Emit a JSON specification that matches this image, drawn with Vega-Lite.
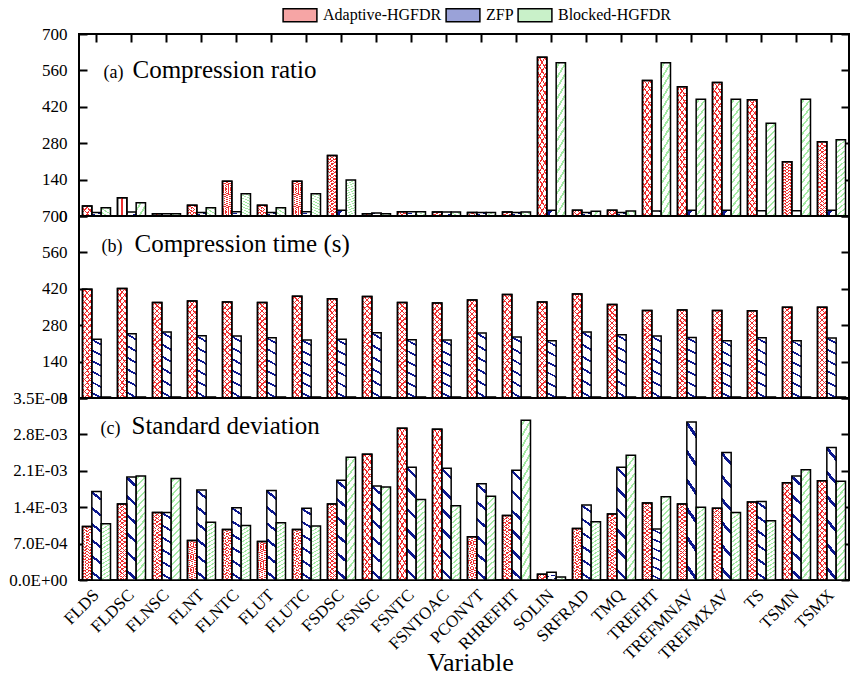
{
"$schema": "https://vega.github.io/schema/vega-lite/v6.json",
"background": "white",
"padding": {"left": 7, "top": 7, "right": 0, "bottom": 0},
"bounds": "flush",
"config": {
  "font": "Times New Roman, Liberation Serif, serif",
  "view": {"stroke": "black", "strokeWidth": 2},
  "axis": {"zindex": 1, "grid": false, "domain": false, "tickColor": "black", "tickWidth": 2, "labelColor": "black", "labelFontSize": 17, "labelFont": "Times New Roman, Liberation Serif, serif", "titleFont": "Times New Roman, Liberation Serif, serif", "titleColor": "black", "titleFontWeight": "normal"},
  "legend": {"labelFont": "Times New Roman, Liberation Serif, serif"}
},
"datasets": {
"d": [
{"p":"a","v":"FLDS","s":"Adaptive-HGFDR","y":38},{"p":"a","v":"FLDS","s":"ZFP","y":13},{"p":"a","v":"FLDS","s":"Blocked-HGFDR","y":32},
{"p":"a","v":"FLDSC","s":"Adaptive-HGFDR","y":70},{"p":"a","v":"FLDSC","s":"ZFP","y":15},{"p":"a","v":"FLDSC","s":"Blocked-HGFDR","y":51},
{"p":"a","v":"FLNSC","s":"Adaptive-HGFDR","y":9},{"p":"a","v":"FLNSC","s":"ZFP","y":9},{"p":"a","v":"FLNSC","s":"Blocked-HGFDR","y":9},
{"p":"a","v":"FLNT","s":"Adaptive-HGFDR","y":41},{"p":"a","v":"FLNT","s":"ZFP","y":13},{"p":"a","v":"FLNT","s":"Blocked-HGFDR","y":32},
{"p":"a","v":"FLNTC","s":"Adaptive-HGFDR","y":134},{"p":"a","v":"FLNTC","s":"ZFP","y":16},{"p":"a","v":"FLNTC","s":"Blocked-HGFDR","y":86},
{"p":"a","v":"FLUT","s":"Adaptive-HGFDR","y":41},{"p":"a","v":"FLUT","s":"ZFP","y":13},{"p":"a","v":"FLUT","s":"Blocked-HGFDR","y":32},
{"p":"a","v":"FLUTC","s":"Adaptive-HGFDR","y":134},{"p":"a","v":"FLUTC","s":"ZFP","y":16},{"p":"a","v":"FLUTC","s":"Blocked-HGFDR","y":86},
{"p":"a","v":"FSDSC","s":"Adaptive-HGFDR","y":233},{"p":"a","v":"FSDSC","s":"ZFP","y":22},{"p":"a","v":"FSDSC","s":"Blocked-HGFDR","y":138},
{"p":"a","v":"FSNSC","s":"Adaptive-HGFDR","y":9},{"p":"a","v":"FSNSC","s":"ZFP","y":12},{"p":"a","v":"FSNSC","s":"Blocked-HGFDR","y":9},
{"p":"a","v":"FSNTC","s":"Adaptive-HGFDR","y":16},{"p":"a","v":"FSNTC","s":"ZFP","y":16},{"p":"a","v":"FSNTC","s":"Blocked-HGFDR","y":16},
{"p":"a","v":"FSNTOAC","s":"Adaptive-HGFDR","y":15},{"p":"a","v":"FSNTOAC","s":"ZFP","y":15},{"p":"a","v":"FSNTOAC","s":"Blocked-HGFDR","y":15},
{"p":"a","v":"PCONVT","s":"Adaptive-HGFDR","y":13},{"p":"a","v":"PCONVT","s":"ZFP","y":13},{"p":"a","v":"PCONVT","s":"Blocked-HGFDR","y":13},
{"p":"a","v":"RHREFHT","s":"Adaptive-HGFDR","y":15},{"p":"a","v":"RHREFHT","s":"ZFP","y":13},{"p":"a","v":"RHREFHT","s":"Blocked-HGFDR","y":15},
{"p":"a","v":"SOLIN","s":"Adaptive-HGFDR","y":611},{"p":"a","v":"SOLIN","s":"ZFP","y":22},{"p":"a","v":"SOLIN","s":"Blocked-HGFDR","y":589},
{"p":"a","v":"SRFRAD","s":"Adaptive-HGFDR","y":22},{"p":"a","v":"SRFRAD","s":"ZFP","y":13},{"p":"a","v":"SRFRAD","s":"Blocked-HGFDR","y":18},
{"p":"a","v":"TMQ","s":"Adaptive-HGFDR","y":22},{"p":"a","v":"TMQ","s":"ZFP","y":13},{"p":"a","v":"TMQ","s":"Blocked-HGFDR","y":19},
{"p":"a","v":"TREFHT","s":"Adaptive-HGFDR","y":521},{"p":"a","v":"TREFHT","s":"ZFP","y":19},{"p":"a","v":"TREFHT","s":"Blocked-HGFDR","y":589},
{"p":"a","v":"TREFMNAV","s":"Adaptive-HGFDR","y":497},{"p":"a","v":"TREFMNAV","s":"ZFP","y":22},{"p":"a","v":"TREFMNAV","s":"Blocked-HGFDR","y":449},
{"p":"a","v":"TREFMXAV","s":"Adaptive-HGFDR","y":513},{"p":"a","v":"TREFMXAV","s":"ZFP","y":22},{"p":"a","v":"TREFMXAV","s":"Blocked-HGFDR","y":449},
{"p":"a","v":"TS","s":"Adaptive-HGFDR","y":447},{"p":"a","v":"TS","s":"ZFP","y":20},{"p":"a","v":"TS","s":"Blocked-HGFDR","y":357},
{"p":"a","v":"TSMN","s":"Adaptive-HGFDR","y":209},{"p":"a","v":"TSMN","s":"ZFP","y":20},{"p":"a","v":"TSMN","s":"Blocked-HGFDR","y":449},
{"p":"a","v":"TSMX","s":"Adaptive-HGFDR","y":286},{"p":"a","v":"TSMX","s":"ZFP","y":22},{"p":"a","v":"TSMX","s":"Blocked-HGFDR","y":293},
{"p":"b","v":"FLDS","s":"Adaptive-HGFDR","y":418},{"p":"b","v":"FLDS","s":"ZFP","y":226},{"p":"b","v":"FLDS","s":"Blocked-HGFDR","y":4},
{"p":"b","v":"FLDSC","s":"Adaptive-HGFDR","y":421},{"p":"b","v":"FLDSC","s":"ZFP","y":247},{"p":"b","v":"FLDSC","s":"Blocked-HGFDR","y":4},
{"p":"b","v":"FLNSC","s":"Adaptive-HGFDR","y":367},{"p":"b","v":"FLNSC","s":"ZFP","y":254},{"p":"b","v":"FLNSC","s":"Blocked-HGFDR","y":4},
{"p":"b","v":"FLNT","s":"Adaptive-HGFDR","y":373},{"p":"b","v":"FLNT","s":"ZFP","y":239},{"p":"b","v":"FLNT","s":"Blocked-HGFDR","y":4},
{"p":"b","v":"FLNTC","s":"Adaptive-HGFDR","y":369},{"p":"b","v":"FLNTC","s":"ZFP","y":238},{"p":"b","v":"FLNTC","s":"Blocked-HGFDR","y":4},
{"p":"b","v":"FLUT","s":"Adaptive-HGFDR","y":367},{"p":"b","v":"FLUT","s":"ZFP","y":232},{"p":"b","v":"FLUT","s":"Blocked-HGFDR","y":4},
{"p":"b","v":"FLUTC","s":"Adaptive-HGFDR","y":391},{"p":"b","v":"FLUTC","s":"ZFP","y":223},{"p":"b","v":"FLUTC","s":"Blocked-HGFDR","y":4},
{"p":"b","v":"FSDSC","s":"Adaptive-HGFDR","y":382},{"p":"b","v":"FSDSC","s":"ZFP","y":226},{"p":"b","v":"FSDSC","s":"Blocked-HGFDR","y":4},
{"p":"b","v":"FSNSC","s":"Adaptive-HGFDR","y":390},{"p":"b","v":"FSNSC","s":"ZFP","y":251},{"p":"b","v":"FSNSC","s":"Blocked-HGFDR","y":4},
{"p":"b","v":"FSNTC","s":"Adaptive-HGFDR","y":367},{"p":"b","v":"FSNTC","s":"ZFP","y":224},{"p":"b","v":"FSNTC","s":"Blocked-HGFDR","y":4},
{"p":"b","v":"FSNTOAC","s":"Adaptive-HGFDR","y":365},{"p":"b","v":"FSNTOAC","s":"ZFP","y":223},{"p":"b","v":"FSNTOAC","s":"Blocked-HGFDR","y":4},
{"p":"b","v":"PCONVT","s":"Adaptive-HGFDR","y":377},{"p":"b","v":"PCONVT","s":"ZFP","y":250},{"p":"b","v":"PCONVT","s":"Blocked-HGFDR","y":4},
{"p":"b","v":"RHREFHT","s":"Adaptive-HGFDR","y":398},{"p":"b","v":"RHREFHT","s":"ZFP","y":235},{"p":"b","v":"RHREFHT","s":"Blocked-HGFDR","y":4},
{"p":"b","v":"SOLIN","s":"Adaptive-HGFDR","y":369},{"p":"b","v":"SOLIN","s":"ZFP","y":220},{"p":"b","v":"SOLIN","s":"Blocked-HGFDR","y":4},
{"p":"b","v":"SRFRAD","s":"Adaptive-HGFDR","y":400},{"p":"b","v":"SRFRAD","s":"ZFP","y":254},{"p":"b","v":"SRFRAD","s":"Blocked-HGFDR","y":4},
{"p":"b","v":"TMQ","s":"Adaptive-HGFDR","y":360},{"p":"b","v":"TMQ","s":"ZFP","y":243},{"p":"b","v":"TMQ","s":"Blocked-HGFDR","y":4},
{"p":"b","v":"TREFHT","s":"Adaptive-HGFDR","y":337},{"p":"b","v":"TREFHT","s":"ZFP","y":238},{"p":"b","v":"TREFHT","s":"Blocked-HGFDR","y":4},
{"p":"b","v":"TREFMNAV","s":"Adaptive-HGFDR","y":338},{"p":"b","v":"TREFMNAV","s":"ZFP","y":233},{"p":"b","v":"TREFMNAV","s":"Blocked-HGFDR","y":4},
{"p":"b","v":"TREFMXAV","s":"Adaptive-HGFDR","y":337},{"p":"b","v":"TREFMXAV","s":"ZFP","y":220},{"p":"b","v":"TREFMXAV","s":"Blocked-HGFDR","y":4},
{"p":"b","v":"TS","s":"Adaptive-HGFDR","y":336},{"p":"b","v":"TS","s":"ZFP","y":232},{"p":"b","v":"TS","s":"Blocked-HGFDR","y":4},
{"p":"b","v":"TSMN","s":"Adaptive-HGFDR","y":349},{"p":"b","v":"TSMN","s":"ZFP","y":220},{"p":"b","v":"TSMN","s":"Blocked-HGFDR","y":4},
{"p":"b","v":"TSMX","s":"Adaptive-HGFDR","y":349},{"p":"b","v":"TSMX","s":"ZFP","y":231},{"p":"b","v":"TSMX","s":"Blocked-HGFDR","y":4},
{"p":"c","v":"FLDS","s":"Adaptive-HGFDR","y":0.00103},{"p":"c","v":"FLDS","s":"ZFP","y":0.00170},{"p":"c","v":"FLDS","s":"Blocked-HGFDR","y":0.00108},
{"p":"c","v":"FLDSC","s":"Adaptive-HGFDR","y":0.00146},{"p":"c","v":"FLDSC","s":"ZFP","y":0.00198},{"p":"c","v":"FLDSC","s":"Blocked-HGFDR","y":0.00200},
{"p":"c","v":"FLNSC","s":"Adaptive-HGFDR","y":0.00130},{"p":"c","v":"FLNSC","s":"ZFP","y":0.00130},{"p":"c","v":"FLNSC","s":"Blocked-HGFDR","y":0.00195},
{"p":"c","v":"FLNT","s":"Adaptive-HGFDR","y":0.00076},{"p":"c","v":"FLNT","s":"ZFP","y":0.00173},{"p":"c","v":"FLNT","s":"Blocked-HGFDR","y":0.00111},
{"p":"c","v":"FLNTC","s":"Adaptive-HGFDR","y":0.00097},{"p":"c","v":"FLNTC","s":"ZFP","y":0.00139},{"p":"c","v":"FLNTC","s":"Blocked-HGFDR","y":0.00105},
{"p":"c","v":"FLUT","s":"Adaptive-HGFDR","y":0.00074},{"p":"c","v":"FLUT","s":"ZFP","y":0.00172},{"p":"c","v":"FLUT","s":"Blocked-HGFDR","y":0.00110},
{"p":"c","v":"FLUTC","s":"Adaptive-HGFDR","y":0.00097},{"p":"c","v":"FLUTC","s":"ZFP","y":0.00138},{"p":"c","v":"FLUTC","s":"Blocked-HGFDR","y":0.00104},
{"p":"c","v":"FSDSC","s":"Adaptive-HGFDR","y":0.00146},{"p":"c","v":"FSDSC","s":"ZFP","y":0.00192},{"p":"c","v":"FSDSC","s":"Blocked-HGFDR","y":0.00236},
{"p":"c","v":"FSNSC","s":"Adaptive-HGFDR","y":0.00242},{"p":"c","v":"FSNSC","s":"ZFP","y":0.00181},{"p":"c","v":"FSNSC","s":"Blocked-HGFDR","y":0.00179},
{"p":"c","v":"FSNTC","s":"Adaptive-HGFDR","y":0.00292},{"p":"c","v":"FSNTC","s":"ZFP","y":0.00217},{"p":"c","v":"FSNTC","s":"Blocked-HGFDR","y":0.00155},
{"p":"c","v":"FSNTOAC","s":"Adaptive-HGFDR","y":0.00290},{"p":"c","v":"FSNTOAC","s":"ZFP","y":0.00215},{"p":"c","v":"FSNTOAC","s":"Blocked-HGFDR","y":0.00143},
{"p":"c","v":"PCONVT","s":"Adaptive-HGFDR","y":0.00083},{"p":"c","v":"PCONVT","s":"ZFP","y":0.00185},{"p":"c","v":"PCONVT","s":"Blocked-HGFDR","y":0.00161},
{"p":"c","v":"RHREFHT","s":"Adaptive-HGFDR","y":0.00124},{"p":"c","v":"RHREFHT","s":"ZFP","y":0.00211},{"p":"c","v":"RHREFHT","s":"Blocked-HGFDR","y":0.00307},
{"p":"c","v":"SOLIN","s":"Adaptive-HGFDR","y":0.00011},{"p":"c","v":"SOLIN","s":"ZFP","y":0.00015},{"p":"c","v":"SOLIN","s":"Blocked-HGFDR","y":0.00006},
{"p":"c","v":"SRFRAD","s":"Adaptive-HGFDR","y":0.00099},{"p":"c","v":"SRFRAD","s":"ZFP","y":0.00144},{"p":"c","v":"SRFRAD","s":"Blocked-HGFDR","y":0.00112},
{"p":"c","v":"TMQ","s":"Adaptive-HGFDR","y":0.00127},{"p":"c","v":"TMQ","s":"ZFP","y":0.00217},{"p":"c","v":"TMQ","s":"Blocked-HGFDR","y":0.00240},
{"p":"c","v":"TREFHT","s":"Adaptive-HGFDR","y":0.00148},{"p":"c","v":"TREFHT","s":"ZFP","y":0.00098},{"p":"c","v":"TREFHT","s":"Blocked-HGFDR","y":0.00160},
{"p":"c","v":"TREFMNAV","s":"Adaptive-HGFDR","y":0.00146},{"p":"c","v":"TREFMNAV","s":"ZFP","y":0.00304},{"p":"c","v":"TREFMNAV","s":"Blocked-HGFDR","y":0.00140},
{"p":"c","v":"TREFMXAV","s":"Adaptive-HGFDR","y":0.00138},{"p":"c","v":"TREFMXAV","s":"ZFP","y":0.00245},{"p":"c","v":"TREFMXAV","s":"Blocked-HGFDR","y":0.00130},
{"p":"c","v":"TS","s":"Adaptive-HGFDR","y":0.00150},{"p":"c","v":"TS","s":"ZFP","y":0.00151},{"p":"c","v":"TS","s":"Blocked-HGFDR","y":0.00114},
{"p":"c","v":"TSMN","s":"Adaptive-HGFDR","y":0.00187},{"p":"c","v":"TSMN","s":"ZFP","y":0.00200},{"p":"c","v":"TSMN","s":"Blocked-HGFDR","y":0.00212},
{"p":"c","v":"TSMX","s":"Adaptive-HGFDR","y":0.00191},{"p":"c","v":"TSMX","s":"ZFP","y":0.00255},{"p":"c","v":"TSMX","s":"Blocked-HGFDR","y":0.00190}
]
},
"data": {"name": "d"},
"spacing": 0,
"resolve": {"scale": {"y": "independent", "fill": "shared", "x": "shared", "xOffset": "shared"}, "legend": {"fill": "shared"}},
"vconcat": [
{
  "width": 770, "height": 182,
  "transform": [{"filter": "datum.p == 'a'"}],
  "resolve": {"axis": {"y": "independent", "x": "independent"}},
  "layer": [
    {
      "mark": {"type": "bar", "stroke": "black", "strokeWidth": 1.5},
      "encoding": {
        "x": {"field": "v", "type": "nominal", "scale": {"domain": ["FLDS","FLDSC","FLNSC","FLNT","FLNTC","FLUT","FLUTC","FSDSC","FSNSC","FSNTC","FSNTOAC","PCONVT","RHREFHT","SOLIN","SRFRAD","TMQ","TREFHT","TREFMNAV","TREFMXAV","TS","TSMN","TSMX"], "paddingInner": 0.2, "paddingOuter": 0.1}, "axis": {"orient": "top", "labels": false, "tickSize": -8, "title": null}},
        "xOffset": {"field": "s", "type": "nominal", "scale": {"domain": ["Adaptive-HGFDR","ZFP","Blocked-HGFDR"], "paddingInner": 0, "paddingOuter": 0}},
        "y": {"field": "y", "type": "quantitative", "scale": {"domain": [0, 700], "nice": false}, "axis": {"orient": "left", "values": [0,140,280,420,560,700], "tickSize": -8, "labelPadding": 20, "title": "(a)", "titleAngle": 0, "titleX": 24, "titleY": 43, "titleAlign": "left", "titleBaseline": "alphabetic", "titleFontSize": 18}},
        "fill": {"field": "s", "type": "nominal",
          "scale": {"domain": ["Adaptive-HGFDR","ZFP","Blocked-HGFDR"], "range": ["#f6a5a5", "#9aa2d8", "#c9f1c9"]},
          "legend": {"orient": "none", "legendX": 203, "legendY": -27, "direction": "horizontal", "title": null, "symbolType": "M-2.6,-1H2.6V1H-2.6Z", "symbolSize": 169, "symbolStrokeColor": "black", "symbolStrokeWidth": 1.5, "labelFontSize": 16, "labelColor": "black", "labelOffset": 15, "columnPadding": 1, "symbolOffset": 10},
          "condition": [
            {"test": "datum.s === 'Adaptive-HGFDR'", "value": {"gradient": "linear", "x1": 1, "y1": 0, "x2": 0.8911, "y2": 1.0891, "stops": [
              {"offset":0,"color":"#ffffff"},
              {"offset":0.019,"color":"#ffffff"},{"offset":0.019,"color":"#f03030"},{"offset":0.031,"color":"#f03030"},{"offset":0.031,"color":"#ffffff"},
              {"offset":0.069,"color":"#ffffff"},{"offset":0.069,"color":"#f03030"},{"offset":0.081,"color":"#f03030"},{"offset":0.081,"color":"#ffffff"},
              {"offset":0.119,"color":"#ffffff"},{"offset":0.119,"color":"#f03030"},{"offset":0.131,"color":"#f03030"},{"offset":0.131,"color":"#ffffff"},
              {"offset":0.169,"color":"#ffffff"},{"offset":0.169,"color":"#f03030"},{"offset":0.181,"color":"#f03030"},{"offset":0.181,"color":"#ffffff"},
              {"offset":0.219,"color":"#ffffff"},{"offset":0.219,"color":"#f03030"},{"offset":0.231,"color":"#f03030"},{"offset":0.231,"color":"#ffffff"},
              {"offset":0.269,"color":"#ffffff"},{"offset":0.269,"color":"#f03030"},{"offset":0.281,"color":"#f03030"},{"offset":0.281,"color":"#ffffff"},
              {"offset":0.319,"color":"#ffffff"},{"offset":0.319,"color":"#f03030"},{"offset":0.331,"color":"#f03030"},{"offset":0.331,"color":"#ffffff"},
              {"offset":0.369,"color":"#ffffff"},{"offset":0.369,"color":"#f03030"},{"offset":0.381,"color":"#f03030"},{"offset":0.381,"color":"#ffffff"},
              {"offset":0.419,"color":"#ffffff"},{"offset":0.419,"color":"#f03030"},{"offset":0.431,"color":"#f03030"},{"offset":0.431,"color":"#ffffff"},
              {"offset":0.469,"color":"#ffffff"},{"offset":0.469,"color":"#f03030"},{"offset":0.481,"color":"#f03030"},{"offset":0.481,"color":"#ffffff"},
              {"offset":0.519,"color":"#ffffff"},{"offset":0.519,"color":"#f03030"},{"offset":0.531,"color":"#f03030"},{"offset":0.531,"color":"#ffffff"},
              {"offset":0.569,"color":"#ffffff"},{"offset":0.569,"color":"#f03030"},{"offset":0.581,"color":"#f03030"},{"offset":0.581,"color":"#ffffff"},
              {"offset":0.619,"color":"#ffffff"},{"offset":0.619,"color":"#f03030"},{"offset":0.631,"color":"#f03030"},{"offset":0.631,"color":"#ffffff"},
              {"offset":0.669,"color":"#ffffff"},{"offset":0.669,"color":"#f03030"},{"offset":0.681,"color":"#f03030"},{"offset":0.681,"color":"#ffffff"},
              {"offset":0.719,"color":"#ffffff"},{"offset":0.719,"color":"#f03030"},{"offset":0.731,"color":"#f03030"},{"offset":0.731,"color":"#ffffff"},
              {"offset":0.769,"color":"#ffffff"},{"offset":0.769,"color":"#f03030"},{"offset":0.781,"color":"#f03030"},{"offset":0.781,"color":"#ffffff"},
              {"offset":0.819,"color":"#ffffff"},{"offset":0.819,"color":"#f03030"},{"offset":0.831,"color":"#f03030"},{"offset":0.831,"color":"#ffffff"},
              {"offset":0.869,"color":"#ffffff"},{"offset":0.869,"color":"#f03030"},{"offset":0.881,"color":"#f03030"},{"offset":0.881,"color":"#ffffff"},
              {"offset":0.919,"color":"#ffffff"},{"offset":0.919,"color":"#f03030"},{"offset":0.931,"color":"#f03030"},{"offset":0.931,"color":"#ffffff"},
              {"offset":0.969,"color":"#ffffff"},{"offset":0.969,"color":"#f03030"},{"offset":0.981,"color":"#f03030"},{"offset":0.981,"color":"#ffffff"},
              {"offset":1,"color":"#ffffff"}]}},
            {"test": "datum.s === 'ZFP'", "value": {"gradient": "linear", "x1": 1, "y1": 0, "x2": 0.9103, "y2": 1.0759, "stops": [
              {"offset":0,"color":"#ffffff"},
              {"offset":0.068,"color":"#ffffff"},{"offset":0.068,"color":"#0c1890"},{"offset":0.098,"color":"#0c1890"},{"offset":0.098,"color":"#ffffff"},
              {"offset":0.235,"color":"#ffffff"},{"offset":0.235,"color":"#0c1890"},{"offset":0.265,"color":"#0c1890"},{"offset":0.265,"color":"#ffffff"},
              {"offset":0.402,"color":"#ffffff"},{"offset":0.402,"color":"#0c1890"},{"offset":0.432,"color":"#0c1890"},{"offset":0.432,"color":"#ffffff"},
              {"offset":0.568,"color":"#ffffff"},{"offset":0.568,"color":"#0c1890"},{"offset":0.598,"color":"#0c1890"},{"offset":0.598,"color":"#ffffff"},
              {"offset":0.735,"color":"#ffffff"},{"offset":0.735,"color":"#0c1890"},{"offset":0.765,"color":"#0c1890"},{"offset":0.765,"color":"#ffffff"},
              {"offset":0.902,"color":"#ffffff"},{"offset":0.902,"color":"#0c1890"},{"offset":0.932,"color":"#0c1890"},{"offset":0.932,"color":"#ffffff"},
              {"offset":1,"color":"#ffffff"}]}},
            {"test": "datum.s === 'Blocked-HGFDR'", "value": {"gradient": "linear", "x1": 0, "y1": 0, "x2": 0.1089, "y2": 1.0891, "stops": [
              {"offset":0,"color":"#ffffff"},
              {"offset":0.021,"color":"#ffffff"},{"offset":0.021,"color":"#a4eaa4"},{"offset":0.041,"color":"#a4eaa4"},{"offset":0.041,"color":"#ffffff"},
              {"offset":0.084,"color":"#ffffff"},{"offset":0.084,"color":"#a4eaa4"},{"offset":0.104,"color":"#a4eaa4"},{"offset":0.104,"color":"#ffffff"},
              {"offset":0.146,"color":"#ffffff"},{"offset":0.146,"color":"#a4eaa4"},{"offset":0.166,"color":"#a4eaa4"},{"offset":0.166,"color":"#ffffff"},
              {"offset":0.209,"color":"#ffffff"},{"offset":0.209,"color":"#a4eaa4"},{"offset":0.229,"color":"#a4eaa4"},{"offset":0.229,"color":"#ffffff"},
              {"offset":0.271,"color":"#ffffff"},{"offset":0.271,"color":"#a4eaa4"},{"offset":0.291,"color":"#a4eaa4"},{"offset":0.291,"color":"#ffffff"},
              {"offset":0.334,"color":"#ffffff"},{"offset":0.334,"color":"#a4eaa4"},{"offset":0.354,"color":"#a4eaa4"},{"offset":0.354,"color":"#ffffff"},
              {"offset":0.396,"color":"#ffffff"},{"offset":0.396,"color":"#a4eaa4"},{"offset":0.416,"color":"#a4eaa4"},{"offset":0.416,"color":"#ffffff"},
              {"offset":0.459,"color":"#ffffff"},{"offset":0.459,"color":"#a4eaa4"},{"offset":0.479,"color":"#a4eaa4"},{"offset":0.479,"color":"#ffffff"},
              {"offset":0.521,"color":"#ffffff"},{"offset":0.521,"color":"#a4eaa4"},{"offset":0.541,"color":"#a4eaa4"},{"offset":0.541,"color":"#ffffff"},
              {"offset":0.584,"color":"#ffffff"},{"offset":0.584,"color":"#a4eaa4"},{"offset":0.604,"color":"#a4eaa4"},{"offset":0.604,"color":"#ffffff"},
              {"offset":0.646,"color":"#ffffff"},{"offset":0.646,"color":"#a4eaa4"},{"offset":0.666,"color":"#a4eaa4"},{"offset":0.666,"color":"#ffffff"},
              {"offset":0.709,"color":"#ffffff"},{"offset":0.709,"color":"#a4eaa4"},{"offset":0.729,"color":"#a4eaa4"},{"offset":0.729,"color":"#ffffff"},
              {"offset":0.771,"color":"#ffffff"},{"offset":0.771,"color":"#a4eaa4"},{"offset":0.791,"color":"#a4eaa4"},{"offset":0.791,"color":"#ffffff"},
              {"offset":0.834,"color":"#ffffff"},{"offset":0.834,"color":"#a4eaa4"},{"offset":0.854,"color":"#a4eaa4"},{"offset":0.854,"color":"#ffffff"},
              {"offset":0.896,"color":"#ffffff"},{"offset":0.896,"color":"#a4eaa4"},{"offset":0.916,"color":"#a4eaa4"},{"offset":0.916,"color":"#ffffff"},
              {"offset":0.959,"color":"#ffffff"},{"offset":0.959,"color":"#a4eaa4"},{"offset":0.979,"color":"#a4eaa4"},{"offset":0.979,"color":"#ffffff"},
              {"offset":1,"color":"#ffffff"}]}}
          ]
        }
      }
    },
    {
      "transform": [{"filter": "datum.s == 'Adaptive-HGFDR'"}],
      "mark": {"type": "bar", "stroke": "black", "strokeWidth": 1.5, "fill": {"gradient": "linear", "x1": 0, "y1": 0, "x2": 0.1089, "y2": 1.0891, "stops": [
              {"offset":0,"color":"rgba(255,255,255,0)"},
              {"offset":0.019,"color":"rgba(255,255,255,0)"},{"offset":0.019,"color":"#f03030"},{"offset":0.031,"color":"#f03030"},{"offset":0.031,"color":"rgba(255,255,255,0)"},
              {"offset":0.069,"color":"rgba(255,255,255,0)"},{"offset":0.069,"color":"#f03030"},{"offset":0.081,"color":"#f03030"},{"offset":0.081,"color":"rgba(255,255,255,0)"},
              {"offset":0.119,"color":"rgba(255,255,255,0)"},{"offset":0.119,"color":"#f03030"},{"offset":0.131,"color":"#f03030"},{"offset":0.131,"color":"rgba(255,255,255,0)"},
              {"offset":0.169,"color":"rgba(255,255,255,0)"},{"offset":0.169,"color":"#f03030"},{"offset":0.181,"color":"#f03030"},{"offset":0.181,"color":"rgba(255,255,255,0)"},
              {"offset":0.219,"color":"rgba(255,255,255,0)"},{"offset":0.219,"color":"#f03030"},{"offset":0.231,"color":"#f03030"},{"offset":0.231,"color":"rgba(255,255,255,0)"},
              {"offset":0.269,"color":"rgba(255,255,255,0)"},{"offset":0.269,"color":"#f03030"},{"offset":0.281,"color":"#f03030"},{"offset":0.281,"color":"rgba(255,255,255,0)"},
              {"offset":0.319,"color":"rgba(255,255,255,0)"},{"offset":0.319,"color":"#f03030"},{"offset":0.331,"color":"#f03030"},{"offset":0.331,"color":"rgba(255,255,255,0)"},
              {"offset":0.369,"color":"rgba(255,255,255,0)"},{"offset":0.369,"color":"#f03030"},{"offset":0.381,"color":"#f03030"},{"offset":0.381,"color":"rgba(255,255,255,0)"},
              {"offset":0.419,"color":"rgba(255,255,255,0)"},{"offset":0.419,"color":"#f03030"},{"offset":0.431,"color":"#f03030"},{"offset":0.431,"color":"rgba(255,255,255,0)"},
              {"offset":0.469,"color":"rgba(255,255,255,0)"},{"offset":0.469,"color":"#f03030"},{"offset":0.481,"color":"#f03030"},{"offset":0.481,"color":"rgba(255,255,255,0)"},
              {"offset":0.519,"color":"rgba(255,255,255,0)"},{"offset":0.519,"color":"#f03030"},{"offset":0.531,"color":"#f03030"},{"offset":0.531,"color":"rgba(255,255,255,0)"},
              {"offset":0.569,"color":"rgba(255,255,255,0)"},{"offset":0.569,"color":"#f03030"},{"offset":0.581,"color":"#f03030"},{"offset":0.581,"color":"rgba(255,255,255,0)"},
              {"offset":0.619,"color":"rgba(255,255,255,0)"},{"offset":0.619,"color":"#f03030"},{"offset":0.631,"color":"#f03030"},{"offset":0.631,"color":"rgba(255,255,255,0)"},
              {"offset":0.669,"color":"rgba(255,255,255,0)"},{"offset":0.669,"color":"#f03030"},{"offset":0.681,"color":"#f03030"},{"offset":0.681,"color":"rgba(255,255,255,0)"},
              {"offset":0.719,"color":"rgba(255,255,255,0)"},{"offset":0.719,"color":"#f03030"},{"offset":0.731,"color":"#f03030"},{"offset":0.731,"color":"rgba(255,255,255,0)"},
              {"offset":0.769,"color":"rgba(255,255,255,0)"},{"offset":0.769,"color":"#f03030"},{"offset":0.781,"color":"#f03030"},{"offset":0.781,"color":"rgba(255,255,255,0)"},
              {"offset":0.819,"color":"rgba(255,255,255,0)"},{"offset":0.819,"color":"#f03030"},{"offset":0.831,"color":"#f03030"},{"offset":0.831,"color":"rgba(255,255,255,0)"},
              {"offset":0.869,"color":"rgba(255,255,255,0)"},{"offset":0.869,"color":"#f03030"},{"offset":0.881,"color":"#f03030"},{"offset":0.881,"color":"rgba(255,255,255,0)"},
              {"offset":0.919,"color":"rgba(255,255,255,0)"},{"offset":0.919,"color":"#f03030"},{"offset":0.931,"color":"#f03030"},{"offset":0.931,"color":"rgba(255,255,255,0)"},
              {"offset":0.969,"color":"rgba(255,255,255,0)"},{"offset":0.969,"color":"#f03030"},{"offset":0.981,"color":"#f03030"},{"offset":0.981,"color":"rgba(255,255,255,0)"},
              {"offset":1,"color":"rgba(255,255,255,0)"}]}},
      "encoding": {
        "x": {"field": "v", "type": "nominal", "axis": null},
        "xOffset": {"field": "s", "type": "nominal"},
        "y": {"field": "y", "type": "quantitative", "scale": {"domain": [0, 700], "nice": false}, "axis": {"orient": "right", "values": [0,140,280,420,560,700], "tickSize": -8, "labels": false, "title": "Compression ratio", "titleAngle": 0, "titleX": -717, "titleY": 43, "titleAlign": "left", "titleBaseline": "alphabetic", "titleFontSize": 25}}
      }
    }
  ]
},
{
  "width": 770, "height": 182,
  "transform": [{"filter": "datum.p == 'b'"}],
  "resolve": {"axis": {"y": "independent", "x": "independent"}},
  "layer": [
    {
      "mark": {"type": "bar", "stroke": "black", "strokeWidth": 1.5},
      "encoding": {
        "x": {"field": "v", "type": "nominal", "scale": {"domain": ["FLDS","FLDSC","FLNSC","FLNT","FLNTC","FLUT","FLUTC","FSDSC","FSNSC","FSNTC","FSNTOAC","PCONVT","RHREFHT","SOLIN","SRFRAD","TMQ","TREFHT","TREFMNAV","TREFMXAV","TS","TSMN","TSMX"], "paddingInner": 0.2, "paddingOuter": 0.1}, "axis": null},
        "xOffset": {"field": "s", "type": "nominal", "scale": {"domain": ["Adaptive-HGFDR","ZFP","Blocked-HGFDR"], "paddingInner": 0, "paddingOuter": 0}},
        "y": {"field": "y", "type": "quantitative", "scale": {"domain": [0, 700], "nice": false}, "axis": {"orient": "left", "values": [0,140,280,420,560,700], "tickSize": -8, "labelPadding": 20, "title": "(b)", "titleAngle": 0, "titleX": 22, "titleY": 35, "titleAlign": "left", "titleBaseline": "alphabetic", "titleFontSize": 18}},
        "fill": {"field": "s", "type": "nominal",
          "scale": {"domain": ["Adaptive-HGFDR","ZFP","Blocked-HGFDR"], "range": ["#f6a5a5", "#9aa2d8", "#c9f1c9"]},
          "legend": {"orient": "none", "legendX": 203, "legendY": -27, "direction": "horizontal", "title": null, "symbolType": "M-2.6,-1H2.6V1H-2.6Z", "symbolSize": 169, "symbolStrokeColor": "black", "symbolStrokeWidth": 1.5, "labelFontSize": 16, "labelColor": "black", "labelOffset": 15, "columnPadding": 1, "symbolOffset": 10},
          "condition": [
            {"test": "datum.s === 'Adaptive-HGFDR'", "value": {"gradient": "linear", "x1": 1, "y1": 0, "x2": 0.8911, "y2": 1.0891, "stops": [
              {"offset":0,"color":"#ffffff"},
              {"offset":0.019,"color":"#ffffff"},{"offset":0.019,"color":"#f03030"},{"offset":0.031,"color":"#f03030"},{"offset":0.031,"color":"#ffffff"},
              {"offset":0.069,"color":"#ffffff"},{"offset":0.069,"color":"#f03030"},{"offset":0.081,"color":"#f03030"},{"offset":0.081,"color":"#ffffff"},
              {"offset":0.119,"color":"#ffffff"},{"offset":0.119,"color":"#f03030"},{"offset":0.131,"color":"#f03030"},{"offset":0.131,"color":"#ffffff"},
              {"offset":0.169,"color":"#ffffff"},{"offset":0.169,"color":"#f03030"},{"offset":0.181,"color":"#f03030"},{"offset":0.181,"color":"#ffffff"},
              {"offset":0.219,"color":"#ffffff"},{"offset":0.219,"color":"#f03030"},{"offset":0.231,"color":"#f03030"},{"offset":0.231,"color":"#ffffff"},
              {"offset":0.269,"color":"#ffffff"},{"offset":0.269,"color":"#f03030"},{"offset":0.281,"color":"#f03030"},{"offset":0.281,"color":"#ffffff"},
              {"offset":0.319,"color":"#ffffff"},{"offset":0.319,"color":"#f03030"},{"offset":0.331,"color":"#f03030"},{"offset":0.331,"color":"#ffffff"},
              {"offset":0.369,"color":"#ffffff"},{"offset":0.369,"color":"#f03030"},{"offset":0.381,"color":"#f03030"},{"offset":0.381,"color":"#ffffff"},
              {"offset":0.419,"color":"#ffffff"},{"offset":0.419,"color":"#f03030"},{"offset":0.431,"color":"#f03030"},{"offset":0.431,"color":"#ffffff"},
              {"offset":0.469,"color":"#ffffff"},{"offset":0.469,"color":"#f03030"},{"offset":0.481,"color":"#f03030"},{"offset":0.481,"color":"#ffffff"},
              {"offset":0.519,"color":"#ffffff"},{"offset":0.519,"color":"#f03030"},{"offset":0.531,"color":"#f03030"},{"offset":0.531,"color":"#ffffff"},
              {"offset":0.569,"color":"#ffffff"},{"offset":0.569,"color":"#f03030"},{"offset":0.581,"color":"#f03030"},{"offset":0.581,"color":"#ffffff"},
              {"offset":0.619,"color":"#ffffff"},{"offset":0.619,"color":"#f03030"},{"offset":0.631,"color":"#f03030"},{"offset":0.631,"color":"#ffffff"},
              {"offset":0.669,"color":"#ffffff"},{"offset":0.669,"color":"#f03030"},{"offset":0.681,"color":"#f03030"},{"offset":0.681,"color":"#ffffff"},
              {"offset":0.719,"color":"#ffffff"},{"offset":0.719,"color":"#f03030"},{"offset":0.731,"color":"#f03030"},{"offset":0.731,"color":"#ffffff"},
              {"offset":0.769,"color":"#ffffff"},{"offset":0.769,"color":"#f03030"},{"offset":0.781,"color":"#f03030"},{"offset":0.781,"color":"#ffffff"},
              {"offset":0.819,"color":"#ffffff"},{"offset":0.819,"color":"#f03030"},{"offset":0.831,"color":"#f03030"},{"offset":0.831,"color":"#ffffff"},
              {"offset":0.869,"color":"#ffffff"},{"offset":0.869,"color":"#f03030"},{"offset":0.881,"color":"#f03030"},{"offset":0.881,"color":"#ffffff"},
              {"offset":0.919,"color":"#ffffff"},{"offset":0.919,"color":"#f03030"},{"offset":0.931,"color":"#f03030"},{"offset":0.931,"color":"#ffffff"},
              {"offset":0.969,"color":"#ffffff"},{"offset":0.969,"color":"#f03030"},{"offset":0.981,"color":"#f03030"},{"offset":0.981,"color":"#ffffff"},
              {"offset":1,"color":"#ffffff"}]}},
            {"test": "datum.s === 'ZFP'", "value": {"gradient": "linear", "x1": 1, "y1": 0, "x2": 0.9103, "y2": 1.0759, "stops": [
              {"offset":0,"color":"#ffffff"},
              {"offset":0.068,"color":"#ffffff"},{"offset":0.068,"color":"#0c1890"},{"offset":0.098,"color":"#0c1890"},{"offset":0.098,"color":"#ffffff"},
              {"offset":0.235,"color":"#ffffff"},{"offset":0.235,"color":"#0c1890"},{"offset":0.265,"color":"#0c1890"},{"offset":0.265,"color":"#ffffff"},
              {"offset":0.402,"color":"#ffffff"},{"offset":0.402,"color":"#0c1890"},{"offset":0.432,"color":"#0c1890"},{"offset":0.432,"color":"#ffffff"},
              {"offset":0.568,"color":"#ffffff"},{"offset":0.568,"color":"#0c1890"},{"offset":0.598,"color":"#0c1890"},{"offset":0.598,"color":"#ffffff"},
              {"offset":0.735,"color":"#ffffff"},{"offset":0.735,"color":"#0c1890"},{"offset":0.765,"color":"#0c1890"},{"offset":0.765,"color":"#ffffff"},
              {"offset":0.902,"color":"#ffffff"},{"offset":0.902,"color":"#0c1890"},{"offset":0.932,"color":"#0c1890"},{"offset":0.932,"color":"#ffffff"},
              {"offset":1,"color":"#ffffff"}]}},
            {"test": "datum.s === 'Blocked-HGFDR'", "value": {"gradient": "linear", "x1": 0, "y1": 0, "x2": 0.1089, "y2": 1.0891, "stops": [
              {"offset":0,"color":"#ffffff"},
              {"offset":0.021,"color":"#ffffff"},{"offset":0.021,"color":"#a4eaa4"},{"offset":0.041,"color":"#a4eaa4"},{"offset":0.041,"color":"#ffffff"},
              {"offset":0.084,"color":"#ffffff"},{"offset":0.084,"color":"#a4eaa4"},{"offset":0.104,"color":"#a4eaa4"},{"offset":0.104,"color":"#ffffff"},
              {"offset":0.146,"color":"#ffffff"},{"offset":0.146,"color":"#a4eaa4"},{"offset":0.166,"color":"#a4eaa4"},{"offset":0.166,"color":"#ffffff"},
              {"offset":0.209,"color":"#ffffff"},{"offset":0.209,"color":"#a4eaa4"},{"offset":0.229,"color":"#a4eaa4"},{"offset":0.229,"color":"#ffffff"},
              {"offset":0.271,"color":"#ffffff"},{"offset":0.271,"color":"#a4eaa4"},{"offset":0.291,"color":"#a4eaa4"},{"offset":0.291,"color":"#ffffff"},
              {"offset":0.334,"color":"#ffffff"},{"offset":0.334,"color":"#a4eaa4"},{"offset":0.354,"color":"#a4eaa4"},{"offset":0.354,"color":"#ffffff"},
              {"offset":0.396,"color":"#ffffff"},{"offset":0.396,"color":"#a4eaa4"},{"offset":0.416,"color":"#a4eaa4"},{"offset":0.416,"color":"#ffffff"},
              {"offset":0.459,"color":"#ffffff"},{"offset":0.459,"color":"#a4eaa4"},{"offset":0.479,"color":"#a4eaa4"},{"offset":0.479,"color":"#ffffff"},
              {"offset":0.521,"color":"#ffffff"},{"offset":0.521,"color":"#a4eaa4"},{"offset":0.541,"color":"#a4eaa4"},{"offset":0.541,"color":"#ffffff"},
              {"offset":0.584,"color":"#ffffff"},{"offset":0.584,"color":"#a4eaa4"},{"offset":0.604,"color":"#a4eaa4"},{"offset":0.604,"color":"#ffffff"},
              {"offset":0.646,"color":"#ffffff"},{"offset":0.646,"color":"#a4eaa4"},{"offset":0.666,"color":"#a4eaa4"},{"offset":0.666,"color":"#ffffff"},
              {"offset":0.709,"color":"#ffffff"},{"offset":0.709,"color":"#a4eaa4"},{"offset":0.729,"color":"#a4eaa4"},{"offset":0.729,"color":"#ffffff"},
              {"offset":0.771,"color":"#ffffff"},{"offset":0.771,"color":"#a4eaa4"},{"offset":0.791,"color":"#a4eaa4"},{"offset":0.791,"color":"#ffffff"},
              {"offset":0.834,"color":"#ffffff"},{"offset":0.834,"color":"#a4eaa4"},{"offset":0.854,"color":"#a4eaa4"},{"offset":0.854,"color":"#ffffff"},
              {"offset":0.896,"color":"#ffffff"},{"offset":0.896,"color":"#a4eaa4"},{"offset":0.916,"color":"#a4eaa4"},{"offset":0.916,"color":"#ffffff"},
              {"offset":0.959,"color":"#ffffff"},{"offset":0.959,"color":"#a4eaa4"},{"offset":0.979,"color":"#a4eaa4"},{"offset":0.979,"color":"#ffffff"},
              {"offset":1,"color":"#ffffff"}]}}
          ]
        }
      }
    },
    {
      "transform": [{"filter": "datum.s == 'Adaptive-HGFDR'"}],
      "mark": {"type": "bar", "stroke": "black", "strokeWidth": 1.5, "fill": {"gradient": "linear", "x1": 0, "y1": 0, "x2": 0.1089, "y2": 1.0891, "stops": [
              {"offset":0,"color":"rgba(255,255,255,0)"},
              {"offset":0.019,"color":"rgba(255,255,255,0)"},{"offset":0.019,"color":"#f03030"},{"offset":0.031,"color":"#f03030"},{"offset":0.031,"color":"rgba(255,255,255,0)"},
              {"offset":0.069,"color":"rgba(255,255,255,0)"},{"offset":0.069,"color":"#f03030"},{"offset":0.081,"color":"#f03030"},{"offset":0.081,"color":"rgba(255,255,255,0)"},
              {"offset":0.119,"color":"rgba(255,255,255,0)"},{"offset":0.119,"color":"#f03030"},{"offset":0.131,"color":"#f03030"},{"offset":0.131,"color":"rgba(255,255,255,0)"},
              {"offset":0.169,"color":"rgba(255,255,255,0)"},{"offset":0.169,"color":"#f03030"},{"offset":0.181,"color":"#f03030"},{"offset":0.181,"color":"rgba(255,255,255,0)"},
              {"offset":0.219,"color":"rgba(255,255,255,0)"},{"offset":0.219,"color":"#f03030"},{"offset":0.231,"color":"#f03030"},{"offset":0.231,"color":"rgba(255,255,255,0)"},
              {"offset":0.269,"color":"rgba(255,255,255,0)"},{"offset":0.269,"color":"#f03030"},{"offset":0.281,"color":"#f03030"},{"offset":0.281,"color":"rgba(255,255,255,0)"},
              {"offset":0.319,"color":"rgba(255,255,255,0)"},{"offset":0.319,"color":"#f03030"},{"offset":0.331,"color":"#f03030"},{"offset":0.331,"color":"rgba(255,255,255,0)"},
              {"offset":0.369,"color":"rgba(255,255,255,0)"},{"offset":0.369,"color":"#f03030"},{"offset":0.381,"color":"#f03030"},{"offset":0.381,"color":"rgba(255,255,255,0)"},
              {"offset":0.419,"color":"rgba(255,255,255,0)"},{"offset":0.419,"color":"#f03030"},{"offset":0.431,"color":"#f03030"},{"offset":0.431,"color":"rgba(255,255,255,0)"},
              {"offset":0.469,"color":"rgba(255,255,255,0)"},{"offset":0.469,"color":"#f03030"},{"offset":0.481,"color":"#f03030"},{"offset":0.481,"color":"rgba(255,255,255,0)"},
              {"offset":0.519,"color":"rgba(255,255,255,0)"},{"offset":0.519,"color":"#f03030"},{"offset":0.531,"color":"#f03030"},{"offset":0.531,"color":"rgba(255,255,255,0)"},
              {"offset":0.569,"color":"rgba(255,255,255,0)"},{"offset":0.569,"color":"#f03030"},{"offset":0.581,"color":"#f03030"},{"offset":0.581,"color":"rgba(255,255,255,0)"},
              {"offset":0.619,"color":"rgba(255,255,255,0)"},{"offset":0.619,"color":"#f03030"},{"offset":0.631,"color":"#f03030"},{"offset":0.631,"color":"rgba(255,255,255,0)"},
              {"offset":0.669,"color":"rgba(255,255,255,0)"},{"offset":0.669,"color":"#f03030"},{"offset":0.681,"color":"#f03030"},{"offset":0.681,"color":"rgba(255,255,255,0)"},
              {"offset":0.719,"color":"rgba(255,255,255,0)"},{"offset":0.719,"color":"#f03030"},{"offset":0.731,"color":"#f03030"},{"offset":0.731,"color":"rgba(255,255,255,0)"},
              {"offset":0.769,"color":"rgba(255,255,255,0)"},{"offset":0.769,"color":"#f03030"},{"offset":0.781,"color":"#f03030"},{"offset":0.781,"color":"rgba(255,255,255,0)"},
              {"offset":0.819,"color":"rgba(255,255,255,0)"},{"offset":0.819,"color":"#f03030"},{"offset":0.831,"color":"#f03030"},{"offset":0.831,"color":"rgba(255,255,255,0)"},
              {"offset":0.869,"color":"rgba(255,255,255,0)"},{"offset":0.869,"color":"#f03030"},{"offset":0.881,"color":"#f03030"},{"offset":0.881,"color":"rgba(255,255,255,0)"},
              {"offset":0.919,"color":"rgba(255,255,255,0)"},{"offset":0.919,"color":"#f03030"},{"offset":0.931,"color":"#f03030"},{"offset":0.931,"color":"rgba(255,255,255,0)"},
              {"offset":0.969,"color":"rgba(255,255,255,0)"},{"offset":0.969,"color":"#f03030"},{"offset":0.981,"color":"#f03030"},{"offset":0.981,"color":"rgba(255,255,255,0)"},
              {"offset":1,"color":"rgba(255,255,255,0)"}]}},
      "encoding": {
        "x": {"field": "v", "type": "nominal", "axis": null},
        "xOffset": {"field": "s", "type": "nominal"},
        "y": {"field": "y", "type": "quantitative", "scale": {"domain": [0, 700], "nice": false}, "axis": {"orient": "right", "values": [0,140,280,420,560,700], "tickSize": -8, "labels": false, "title": "Compression time (s)", "titleAngle": 0, "titleX": -715, "titleY": 35, "titleAlign": "left", "titleBaseline": "alphabetic", "titleFontSize": 25}}
      }
    }
  ]
},
{
  "width": 770, "height": 182,
  "transform": [{"filter": "datum.p == 'c'"}],
  "resolve": {"axis": {"y": "independent", "x": "independent"}},
  "layer": [
    {
      "mark": {"type": "bar", "stroke": "black", "strokeWidth": 1.5},
      "encoding": {
        "x": {"field": "v", "type": "nominal", "scale": {"domain": ["FLDS","FLDSC","FLNSC","FLNT","FLNTC","FLUT","FLUTC","FSDSC","FSNSC","FSNTC","FSNTOAC","PCONVT","RHREFHT","SOLIN","SRFRAD","TMQ","TREFHT","TREFMNAV","TREFMXAV","TS","TSMN","TSMX"], "paddingInner": 0.2, "paddingOuter": 0.1}, "axis": {"orient": "bottom", "tickSize": -8, "labelAngle": -45, "labelAlign": "right", "labelBaseline": "middle", "labelPadding": 20, "labelFontSize": 17, "title": "Variable", "titleFontSize": 26, "titleX": 391, "titleY": 90, "titleAlign": "center", "titleBaseline": "alphabetic", "titleAngle": 0}},
        "xOffset": {"field": "s", "type": "nominal", "scale": {"domain": ["Adaptive-HGFDR","ZFP","Blocked-HGFDR"], "paddingInner": 0, "paddingOuter": 0}},
        "y": {"field": "y", "type": "quantitative", "scale": {"domain": [0, 0.0035], "nice": false}, "axis": {"orient": "left", "values": [0,0.0007,0.0014,0.0021,0.0028,0.0035], "labelExpr": "datum.value == 0 ? '0.0E+00' : datum.value < 0.001 ? format(datum.value*10000, '.1f') + 'E-04' : format(datum.value*1000, '.1f') + 'E-03'", "tickSize": -8, "labelPadding": 20, "title": "(c)", "titleAngle": 0, "titleX": 21, "titleY": 35, "titleAlign": "left", "titleBaseline": "alphabetic", "titleFontSize": 18}},
        "fill": {"field": "s", "type": "nominal",
          "scale": {"domain": ["Adaptive-HGFDR","ZFP","Blocked-HGFDR"], "range": ["#f6a5a5", "#9aa2d8", "#c9f1c9"]},
          "legend": {"orient": "none", "legendX": 203, "legendY": -27, "direction": "horizontal", "title": null, "symbolType": "M-2.6,-1H2.6V1H-2.6Z", "symbolSize": 169, "symbolStrokeColor": "black", "symbolStrokeWidth": 1.5, "labelFontSize": 16, "labelColor": "black", "labelOffset": 15, "columnPadding": 1, "symbolOffset": 10},
          "condition": [
            {"test": "datum.s === 'Adaptive-HGFDR'", "value": {"gradient": "linear", "x1": 1, "y1": 0, "x2": 0.8911, "y2": 1.0891, "stops": [
              {"offset":0,"color":"#ffffff"},
              {"offset":0.019,"color":"#ffffff"},{"offset":0.019,"color":"#f03030"},{"offset":0.031,"color":"#f03030"},{"offset":0.031,"color":"#ffffff"},
              {"offset":0.069,"color":"#ffffff"},{"offset":0.069,"color":"#f03030"},{"offset":0.081,"color":"#f03030"},{"offset":0.081,"color":"#ffffff"},
              {"offset":0.119,"color":"#ffffff"},{"offset":0.119,"color":"#f03030"},{"offset":0.131,"color":"#f03030"},{"offset":0.131,"color":"#ffffff"},
              {"offset":0.169,"color":"#ffffff"},{"offset":0.169,"color":"#f03030"},{"offset":0.181,"color":"#f03030"},{"offset":0.181,"color":"#ffffff"},
              {"offset":0.219,"color":"#ffffff"},{"offset":0.219,"color":"#f03030"},{"offset":0.231,"color":"#f03030"},{"offset":0.231,"color":"#ffffff"},
              {"offset":0.269,"color":"#ffffff"},{"offset":0.269,"color":"#f03030"},{"offset":0.281,"color":"#f03030"},{"offset":0.281,"color":"#ffffff"},
              {"offset":0.319,"color":"#ffffff"},{"offset":0.319,"color":"#f03030"},{"offset":0.331,"color":"#f03030"},{"offset":0.331,"color":"#ffffff"},
              {"offset":0.369,"color":"#ffffff"},{"offset":0.369,"color":"#f03030"},{"offset":0.381,"color":"#f03030"},{"offset":0.381,"color":"#ffffff"},
              {"offset":0.419,"color":"#ffffff"},{"offset":0.419,"color":"#f03030"},{"offset":0.431,"color":"#f03030"},{"offset":0.431,"color":"#ffffff"},
              {"offset":0.469,"color":"#ffffff"},{"offset":0.469,"color":"#f03030"},{"offset":0.481,"color":"#f03030"},{"offset":0.481,"color":"#ffffff"},
              {"offset":0.519,"color":"#ffffff"},{"offset":0.519,"color":"#f03030"},{"offset":0.531,"color":"#f03030"},{"offset":0.531,"color":"#ffffff"},
              {"offset":0.569,"color":"#ffffff"},{"offset":0.569,"color":"#f03030"},{"offset":0.581,"color":"#f03030"},{"offset":0.581,"color":"#ffffff"},
              {"offset":0.619,"color":"#ffffff"},{"offset":0.619,"color":"#f03030"},{"offset":0.631,"color":"#f03030"},{"offset":0.631,"color":"#ffffff"},
              {"offset":0.669,"color":"#ffffff"},{"offset":0.669,"color":"#f03030"},{"offset":0.681,"color":"#f03030"},{"offset":0.681,"color":"#ffffff"},
              {"offset":0.719,"color":"#ffffff"},{"offset":0.719,"color":"#f03030"},{"offset":0.731,"color":"#f03030"},{"offset":0.731,"color":"#ffffff"},
              {"offset":0.769,"color":"#ffffff"},{"offset":0.769,"color":"#f03030"},{"offset":0.781,"color":"#f03030"},{"offset":0.781,"color":"#ffffff"},
              {"offset":0.819,"color":"#ffffff"},{"offset":0.819,"color":"#f03030"},{"offset":0.831,"color":"#f03030"},{"offset":0.831,"color":"#ffffff"},
              {"offset":0.869,"color":"#ffffff"},{"offset":0.869,"color":"#f03030"},{"offset":0.881,"color":"#f03030"},{"offset":0.881,"color":"#ffffff"},
              {"offset":0.919,"color":"#ffffff"},{"offset":0.919,"color":"#f03030"},{"offset":0.931,"color":"#f03030"},{"offset":0.931,"color":"#ffffff"},
              {"offset":0.969,"color":"#ffffff"},{"offset":0.969,"color":"#f03030"},{"offset":0.981,"color":"#f03030"},{"offset":0.981,"color":"#ffffff"},
              {"offset":1,"color":"#ffffff"}]}},
            {"test": "datum.s === 'ZFP'", "value": {"gradient": "linear", "x1": 1, "y1": 0, "x2": 0.9103, "y2": 1.0759, "stops": [
              {"offset":0,"color":"#ffffff"},
              {"offset":0.068,"color":"#ffffff"},{"offset":0.068,"color":"#0c1890"},{"offset":0.098,"color":"#0c1890"},{"offset":0.098,"color":"#ffffff"},
              {"offset":0.235,"color":"#ffffff"},{"offset":0.235,"color":"#0c1890"},{"offset":0.265,"color":"#0c1890"},{"offset":0.265,"color":"#ffffff"},
              {"offset":0.402,"color":"#ffffff"},{"offset":0.402,"color":"#0c1890"},{"offset":0.432,"color":"#0c1890"},{"offset":0.432,"color":"#ffffff"},
              {"offset":0.568,"color":"#ffffff"},{"offset":0.568,"color":"#0c1890"},{"offset":0.598,"color":"#0c1890"},{"offset":0.598,"color":"#ffffff"},
              {"offset":0.735,"color":"#ffffff"},{"offset":0.735,"color":"#0c1890"},{"offset":0.765,"color":"#0c1890"},{"offset":0.765,"color":"#ffffff"},
              {"offset":0.902,"color":"#ffffff"},{"offset":0.902,"color":"#0c1890"},{"offset":0.932,"color":"#0c1890"},{"offset":0.932,"color":"#ffffff"},
              {"offset":1,"color":"#ffffff"}]}},
            {"test": "datum.s === 'Blocked-HGFDR'", "value": {"gradient": "linear", "x1": 0, "y1": 0, "x2": 0.1089, "y2": 1.0891, "stops": [
              {"offset":0,"color":"#ffffff"},
              {"offset":0.021,"color":"#ffffff"},{"offset":0.021,"color":"#a4eaa4"},{"offset":0.041,"color":"#a4eaa4"},{"offset":0.041,"color":"#ffffff"},
              {"offset":0.084,"color":"#ffffff"},{"offset":0.084,"color":"#a4eaa4"},{"offset":0.104,"color":"#a4eaa4"},{"offset":0.104,"color":"#ffffff"},
              {"offset":0.146,"color":"#ffffff"},{"offset":0.146,"color":"#a4eaa4"},{"offset":0.166,"color":"#a4eaa4"},{"offset":0.166,"color":"#ffffff"},
              {"offset":0.209,"color":"#ffffff"},{"offset":0.209,"color":"#a4eaa4"},{"offset":0.229,"color":"#a4eaa4"},{"offset":0.229,"color":"#ffffff"},
              {"offset":0.271,"color":"#ffffff"},{"offset":0.271,"color":"#a4eaa4"},{"offset":0.291,"color":"#a4eaa4"},{"offset":0.291,"color":"#ffffff"},
              {"offset":0.334,"color":"#ffffff"},{"offset":0.334,"color":"#a4eaa4"},{"offset":0.354,"color":"#a4eaa4"},{"offset":0.354,"color":"#ffffff"},
              {"offset":0.396,"color":"#ffffff"},{"offset":0.396,"color":"#a4eaa4"},{"offset":0.416,"color":"#a4eaa4"},{"offset":0.416,"color":"#ffffff"},
              {"offset":0.459,"color":"#ffffff"},{"offset":0.459,"color":"#a4eaa4"},{"offset":0.479,"color":"#a4eaa4"},{"offset":0.479,"color":"#ffffff"},
              {"offset":0.521,"color":"#ffffff"},{"offset":0.521,"color":"#a4eaa4"},{"offset":0.541,"color":"#a4eaa4"},{"offset":0.541,"color":"#ffffff"},
              {"offset":0.584,"color":"#ffffff"},{"offset":0.584,"color":"#a4eaa4"},{"offset":0.604,"color":"#a4eaa4"},{"offset":0.604,"color":"#ffffff"},
              {"offset":0.646,"color":"#ffffff"},{"offset":0.646,"color":"#a4eaa4"},{"offset":0.666,"color":"#a4eaa4"},{"offset":0.666,"color":"#ffffff"},
              {"offset":0.709,"color":"#ffffff"},{"offset":0.709,"color":"#a4eaa4"},{"offset":0.729,"color":"#a4eaa4"},{"offset":0.729,"color":"#ffffff"},
              {"offset":0.771,"color":"#ffffff"},{"offset":0.771,"color":"#a4eaa4"},{"offset":0.791,"color":"#a4eaa4"},{"offset":0.791,"color":"#ffffff"},
              {"offset":0.834,"color":"#ffffff"},{"offset":0.834,"color":"#a4eaa4"},{"offset":0.854,"color":"#a4eaa4"},{"offset":0.854,"color":"#ffffff"},
              {"offset":0.896,"color":"#ffffff"},{"offset":0.896,"color":"#a4eaa4"},{"offset":0.916,"color":"#a4eaa4"},{"offset":0.916,"color":"#ffffff"},
              {"offset":0.959,"color":"#ffffff"},{"offset":0.959,"color":"#a4eaa4"},{"offset":0.979,"color":"#a4eaa4"},{"offset":0.979,"color":"#ffffff"},
              {"offset":1,"color":"#ffffff"}]}}
          ]
        }
      }
    },
    {
      "transform": [{"filter": "datum.s == 'Adaptive-HGFDR'"}],
      "mark": {"type": "bar", "stroke": "black", "strokeWidth": 1.5, "fill": {"gradient": "linear", "x1": 0, "y1": 0, "x2": 0.1089, "y2": 1.0891, "stops": [
              {"offset":0,"color":"rgba(255,255,255,0)"},
              {"offset":0.019,"color":"rgba(255,255,255,0)"},{"offset":0.019,"color":"#f03030"},{"offset":0.031,"color":"#f03030"},{"offset":0.031,"color":"rgba(255,255,255,0)"},
              {"offset":0.069,"color":"rgba(255,255,255,0)"},{"offset":0.069,"color":"#f03030"},{"offset":0.081,"color":"#f03030"},{"offset":0.081,"color":"rgba(255,255,255,0)"},
              {"offset":0.119,"color":"rgba(255,255,255,0)"},{"offset":0.119,"color":"#f03030"},{"offset":0.131,"color":"#f03030"},{"offset":0.131,"color":"rgba(255,255,255,0)"},
              {"offset":0.169,"color":"rgba(255,255,255,0)"},{"offset":0.169,"color":"#f03030"},{"offset":0.181,"color":"#f03030"},{"offset":0.181,"color":"rgba(255,255,255,0)"},
              {"offset":0.219,"color":"rgba(255,255,255,0)"},{"offset":0.219,"color":"#f03030"},{"offset":0.231,"color":"#f03030"},{"offset":0.231,"color":"rgba(255,255,255,0)"},
              {"offset":0.269,"color":"rgba(255,255,255,0)"},{"offset":0.269,"color":"#f03030"},{"offset":0.281,"color":"#f03030"},{"offset":0.281,"color":"rgba(255,255,255,0)"},
              {"offset":0.319,"color":"rgba(255,255,255,0)"},{"offset":0.319,"color":"#f03030"},{"offset":0.331,"color":"#f03030"},{"offset":0.331,"color":"rgba(255,255,255,0)"},
              {"offset":0.369,"color":"rgba(255,255,255,0)"},{"offset":0.369,"color":"#f03030"},{"offset":0.381,"color":"#f03030"},{"offset":0.381,"color":"rgba(255,255,255,0)"},
              {"offset":0.419,"color":"rgba(255,255,255,0)"},{"offset":0.419,"color":"#f03030"},{"offset":0.431,"color":"#f03030"},{"offset":0.431,"color":"rgba(255,255,255,0)"},
              {"offset":0.469,"color":"rgba(255,255,255,0)"},{"offset":0.469,"color":"#f03030"},{"offset":0.481,"color":"#f03030"},{"offset":0.481,"color":"rgba(255,255,255,0)"},
              {"offset":0.519,"color":"rgba(255,255,255,0)"},{"offset":0.519,"color":"#f03030"},{"offset":0.531,"color":"#f03030"},{"offset":0.531,"color":"rgba(255,255,255,0)"},
              {"offset":0.569,"color":"rgba(255,255,255,0)"},{"offset":0.569,"color":"#f03030"},{"offset":0.581,"color":"#f03030"},{"offset":0.581,"color":"rgba(255,255,255,0)"},
              {"offset":0.619,"color":"rgba(255,255,255,0)"},{"offset":0.619,"color":"#f03030"},{"offset":0.631,"color":"#f03030"},{"offset":0.631,"color":"rgba(255,255,255,0)"},
              {"offset":0.669,"color":"rgba(255,255,255,0)"},{"offset":0.669,"color":"#f03030"},{"offset":0.681,"color":"#f03030"},{"offset":0.681,"color":"rgba(255,255,255,0)"},
              {"offset":0.719,"color":"rgba(255,255,255,0)"},{"offset":0.719,"color":"#f03030"},{"offset":0.731,"color":"#f03030"},{"offset":0.731,"color":"rgba(255,255,255,0)"},
              {"offset":0.769,"color":"rgba(255,255,255,0)"},{"offset":0.769,"color":"#f03030"},{"offset":0.781,"color":"#f03030"},{"offset":0.781,"color":"rgba(255,255,255,0)"},
              {"offset":0.819,"color":"rgba(255,255,255,0)"},{"offset":0.819,"color":"#f03030"},{"offset":0.831,"color":"#f03030"},{"offset":0.831,"color":"rgba(255,255,255,0)"},
              {"offset":0.869,"color":"rgba(255,255,255,0)"},{"offset":0.869,"color":"#f03030"},{"offset":0.881,"color":"#f03030"},{"offset":0.881,"color":"rgba(255,255,255,0)"},
              {"offset":0.919,"color":"rgba(255,255,255,0)"},{"offset":0.919,"color":"#f03030"},{"offset":0.931,"color":"#f03030"},{"offset":0.931,"color":"rgba(255,255,255,0)"},
              {"offset":0.969,"color":"rgba(255,255,255,0)"},{"offset":0.969,"color":"#f03030"},{"offset":0.981,"color":"#f03030"},{"offset":0.981,"color":"rgba(255,255,255,0)"},
              {"offset":1,"color":"rgba(255,255,255,0)"}]}},
      "encoding": {
        "x": {"field": "v", "type": "nominal", "axis": null},
        "xOffset": {"field": "s", "type": "nominal"},
        "y": {"field": "y", "type": "quantitative", "scale": {"domain": [0, 0.0035], "nice": false}, "axis": {"orient": "right", "values": [0,0.0007,0.0014,0.0021,0.0028,0.0035], "tickSize": -8, "labels": false, "title": "Standard deviation", "titleAngle": 0, "titleX": -718, "titleY": 35, "titleAlign": "left", "titleBaseline": "alphabetic", "titleFontSize": 25}}
      }
    }
  ]
}
]
}
